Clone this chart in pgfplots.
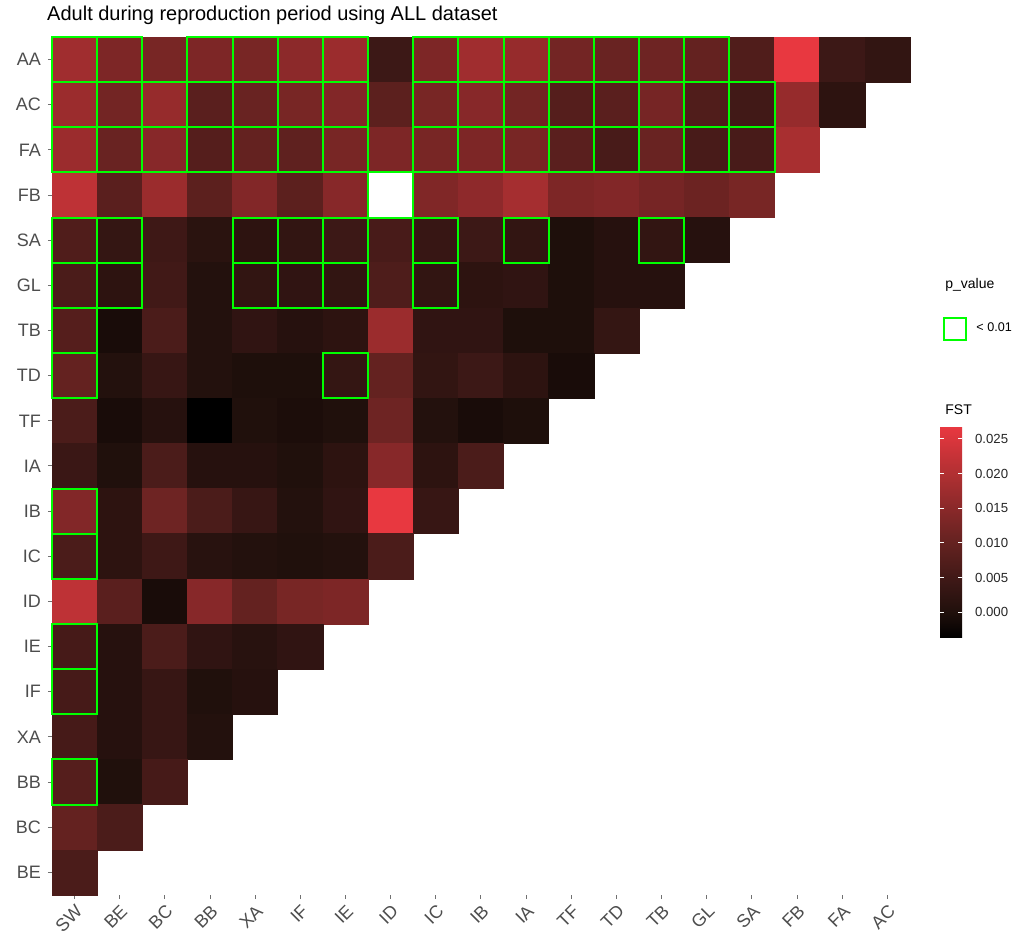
\documentclass[border=0pt]{standalone}
\usepackage{fontspec}
\setmainfont{Liberation Sans}
\usepackage{pgfplots}
\usepackage{pgfplotstable}
\pgfplotsset{compat=1.18}
\definecolor{sig}{RGB}{0,255,0}
\definecolor{axtext}{RGB}{77,77,77}

% x: SW=0 BE=1 BC=2 BB=3 XA=4 IF=5 IE=6 ID=7 IC=8 IB=9 IA=10 TF=11 TD=12 TB=13 GL=14 SA=15 FB=16 FA=17 AC=18
% y: BE=0 BC=1 BB=2 XA=3 IF=4 IE=5 ID=6 IC=7 IB=8 IA=9 TF=10 TD=11 TB=12 GL=13 SA=14 FB=15 FA=16 AC=17 AA=18
\pgfplotstableread{
x y v
0 18 0.0178
1 18 0.0133
2 18 0.0127
3 18 0.0133
4 18 0.0127
5 18 0.0153
6 18 0.0172
7 18 0.0043
8 18 0.0133
9 18 0.0178
10 18 0.0166
11 18 0.0120
12 18 0.0107
13 18 0.0114
14 18 0.0100
15 18 0.0071
16 18 0.0267
17 18 0.0043
18 18 0.0028
0 17 0.0172
1 17 0.0120
2 17 0.0166
3 17 0.0086
4 17 0.0107
5 17 0.0127
6 17 0.0140
7 17 0.0088
8 17 0.0127
9 17 0.0146
10 17 0.0120
11 17 0.0078
12 17 0.0086
13 17 0.0124
14 17 0.0071
15 17 0.0050
16 17 0.0166
17 17 0.0020
0 16 0.0172
1 16 0.0107
2 16 0.0146
3 16 0.0078
4 16 0.0100
5 16 0.0093
6 16 0.0127
7 16 0.0133
8 16 0.0127
9 16 0.0133
10 16 0.0127
11 16 0.0086
12 16 0.0060
13 16 0.0107
14 16 0.0060
15 16 0.0060
16 16 0.0188
0 15 0.0216
1 15 0.0086
2 15 0.0172
3 15 0.0088
4 15 0.0140
5 15 0.0088
6 15 0.0146
8 15 0.0137
9 15 0.0156
10 15 0.0185
11 15 0.0133
12 15 0.0140
13 15 0.0124
14 15 0.0111
15 15 0.0127
0 14 0.0071
1 14 0.0031
2 14 0.0046
3 14 0.0015
4 14 0.0020
5 14 0.0028
6 14 0.0043
7 14 0.0060
8 14 0.0036
9 14 0.0043
10 14 0.0028
11 14 -0.0002
12 14 0.0009
13 14 0.0028
14 14 0.0009
0 13 0.0064
1 13 0.0020
2 13 0.0050
3 13 0.0004
4 13 0.0028
5 13 0.0025
6 13 0.0028
7 13 0.0069
8 13 0.0028
9 13 0.0020
10 13 0.0025
11 13 -0.0002
12 13 0.0009
13 13 0.0009
0 12 0.0078
1 12 -0.0008
2 12 0.0064
3 12 0.0004
4 12 0.0025
5 12 0.0009
6 12 0.0020
7 12 0.0172
8 12 0.0025
9 12 0.0025
10 12 -0.0002
11 12 -0.0002
12 12 0.0031
0 11 0.0100
1 11 0.0004
2 11 0.0036
3 11 0.0004
4 11 -0.0002
5 11 -0.0002
6 11 0.0031
7 11 0.0100
8 11 0.0028
9 11 0.0043
10 11 0.0020
11 11 -0.0008
0 10 0.0064
1 10 -0.0008
2 10 0.0009
3 10 -0.0037
4 10 0.0000
5 10 -0.0005
6 10 0.0000
7 10 0.0114
8 10 0.0004
9 10 -0.0008
10 10 -0.0002
0 9 0.0040
1 9 0.0000
2 9 0.0064
3 9 0.0009
4 9 0.0009
5 9 0.0000
6 9 0.0020
7 9 0.0146
8 9 0.0020
9 9 0.0064
0 8 0.0140
1 8 0.0020
2 8 0.0114
3 8 0.0064
4 8 0.0036
5 8 0.0004
6 8 0.0025
7 8 0.0267
8 8 0.0036
0 7 0.0064
1 7 0.0020
2 7 0.0046
3 7 0.0012
4 7 0.0004
5 7 0.0000
6 7 0.0004
7 7 0.0064
0 6 0.0216
1 6 0.0086
2 6 -0.0008
3 6 0.0146
4 6 0.0100
5 6 0.0127
6 6 0.0133
0 5 0.0057
1 5 0.0009
2 5 0.0064
3 5 0.0025
4 5 0.0012
5 5 0.0025
0 4 0.0057
1 4 0.0009
2 4 0.0036
3 4 0.0000
4 4 0.0009
0 3 0.0057
1 3 0.0009
2 3 0.0036
3 3 0.0004
0 2 0.0078
1 2 0.0000
2 2 0.0057
0 1 0.0100
1 1 0.0064
0 0 0.0064
}\fstdata

\pgfplotstableread{
x y
0 18
1 18
3 18
4 18
5 18
6 18
8 18
9 18
10 18
11 18
12 18
13 18
14 18
0 17
1 17
2 17
3 17
4 17
5 17
6 17
8 17
9 17
10 17
11 17
12 17
13 17
14 17
15 17
0 16
1 16
2 16
3 16
4 16
5 16
6 16
8 16
9 16
10 16
11 16
12 16
13 16
14 16
15 16
7 15
0 14
1 14
4 14
5 14
6 14
8 14
10 14
13 14
0 13
1 13
4 13
5 13
6 13
8 13
0 12
0 11
6 11
0 8
0 7
0 5
0 4
0 2
}\sigdata

\begin{document}
\begin{tikzpicture}
\begin{axis}[
  scale only axis, width=429pt, height=429pt,
  xmin=-0.5, xmax=18.5, ymin=-0.5, ymax=18.5,
  axis line style={draw=none},
  tick pos=left,
  xtick={0,...,18},
  xticklabels={SW,BE,BC,BB,XA,IF,IE,ID,IC,IB,IA,TF,TD,TB,GL,SA,FB,FA,AC},
  ytick={0,...,18},
  yticklabels={BE,BC,BB,XA,IF,IE,ID,IC,IB,IA,TF,TD,TB,GL,SA,FB,FA,AC,AA},
  tick align=outside, major tick length=2pt,
  tick style={draw=axtext!80, line width=0.5pt},
  xticklabel style={rotate=45, anchor=north east, font=\fontsize{9}{10}\selectfont, text=axtext, inner sep=1.5pt},
  yticklabel style={font=\fontsize{9}{10}\selectfont, text=axtext},
  colormap={fst}{rgb255(0)=(0,0,0) rgb255(1)=(33,16,12) rgb255(2)=(57,23,21) rgb255(3)=(84,30,28) rgb255(4)=(111,36,35) rgb255(5)=(140,41,42) rgb255(6)=(170,47,49) rgb255(7)=(201,51,56) rgb255(8)=(232,56,64)},
  point meta min=-0.0037, point meta max=0.0267,
  colorbar,
  colorbar style={
    at={(parent axis.south east)}, anchor=south west,
    xshift=6.5pt, yshift=128.5pt,
    scale only axis, width=11pt, height=105.5pt,
    axis line style={draw=none},
    scaled y ticks=false,
    ytick={0,0.005,0.01,0.015,0.02,0.025},
    yticklabels={0.000,0.005,0.010,0.015,0.020,0.025},
    ytick pos=both, yticklabel pos=right,
    tick align=inside, major tick length=2pt,
    ytick style={draw=white, line width=0.5pt},
    yticklabel style={font=\fontsize{6.6}{7.5}\selectfont, text=black!85, xshift=3pt},
    xtick=\empty,
  },
  clip=false,
  legend style={at={(axis description cs:1.0385,0.6597)}, anchor=west, draw=none, fill=none, inner sep=0pt, font=\fontsize{6.3}{7}\selectfont, legend cell align=left, nodes={inner sep=0pt}},
  legend image code/.code={\draw[sig, line width=1pt] (0pt,-5.5pt) rectangle (11pt,5.5pt); \path[draw=none, fill=none] (0pt,0pt) -- (16pt,0pt);},
]
\addplot[scatter, only marks, mark=square*, mark size=11.29pt, line width=0.3pt,
  scatter src=explicit,
  scatter/use mapped color={draw=mapped color, fill=mapped color},
  forget plot] table[x=x, y=y, meta=v] {\fstdata};
\addplot[only marks, mark=square, mark size=11.29pt, mark options={draw=sig, line width=1pt}] table[x=x, y=y] {\sigdata};
\addlegendentry{< 0.01}
\node[anchor=base west, font=\fontsize{10}{11}\selectfont, inner sep=0pt] at ([yshift=8pt]axis description cs:-0.006,1) {Adult during reproduction period using ALL dataset};
\node[anchor=west, font=\fontsize{7}{8}\selectfont, inner sep=0pt] at (axis description cs:1.0408,0.711) {p\_value};
\node[anchor=west, font=\fontsize{7}{8}\selectfont, inner sep=0pt] at (axis description cs:1.0408,0.5653) {FST};
\path (axis description cs:-0.0606,-0.0501) rectangle (axis description cs:1.1224,1.0431);
\end{axis}
\end{tikzpicture}
\end{document}
